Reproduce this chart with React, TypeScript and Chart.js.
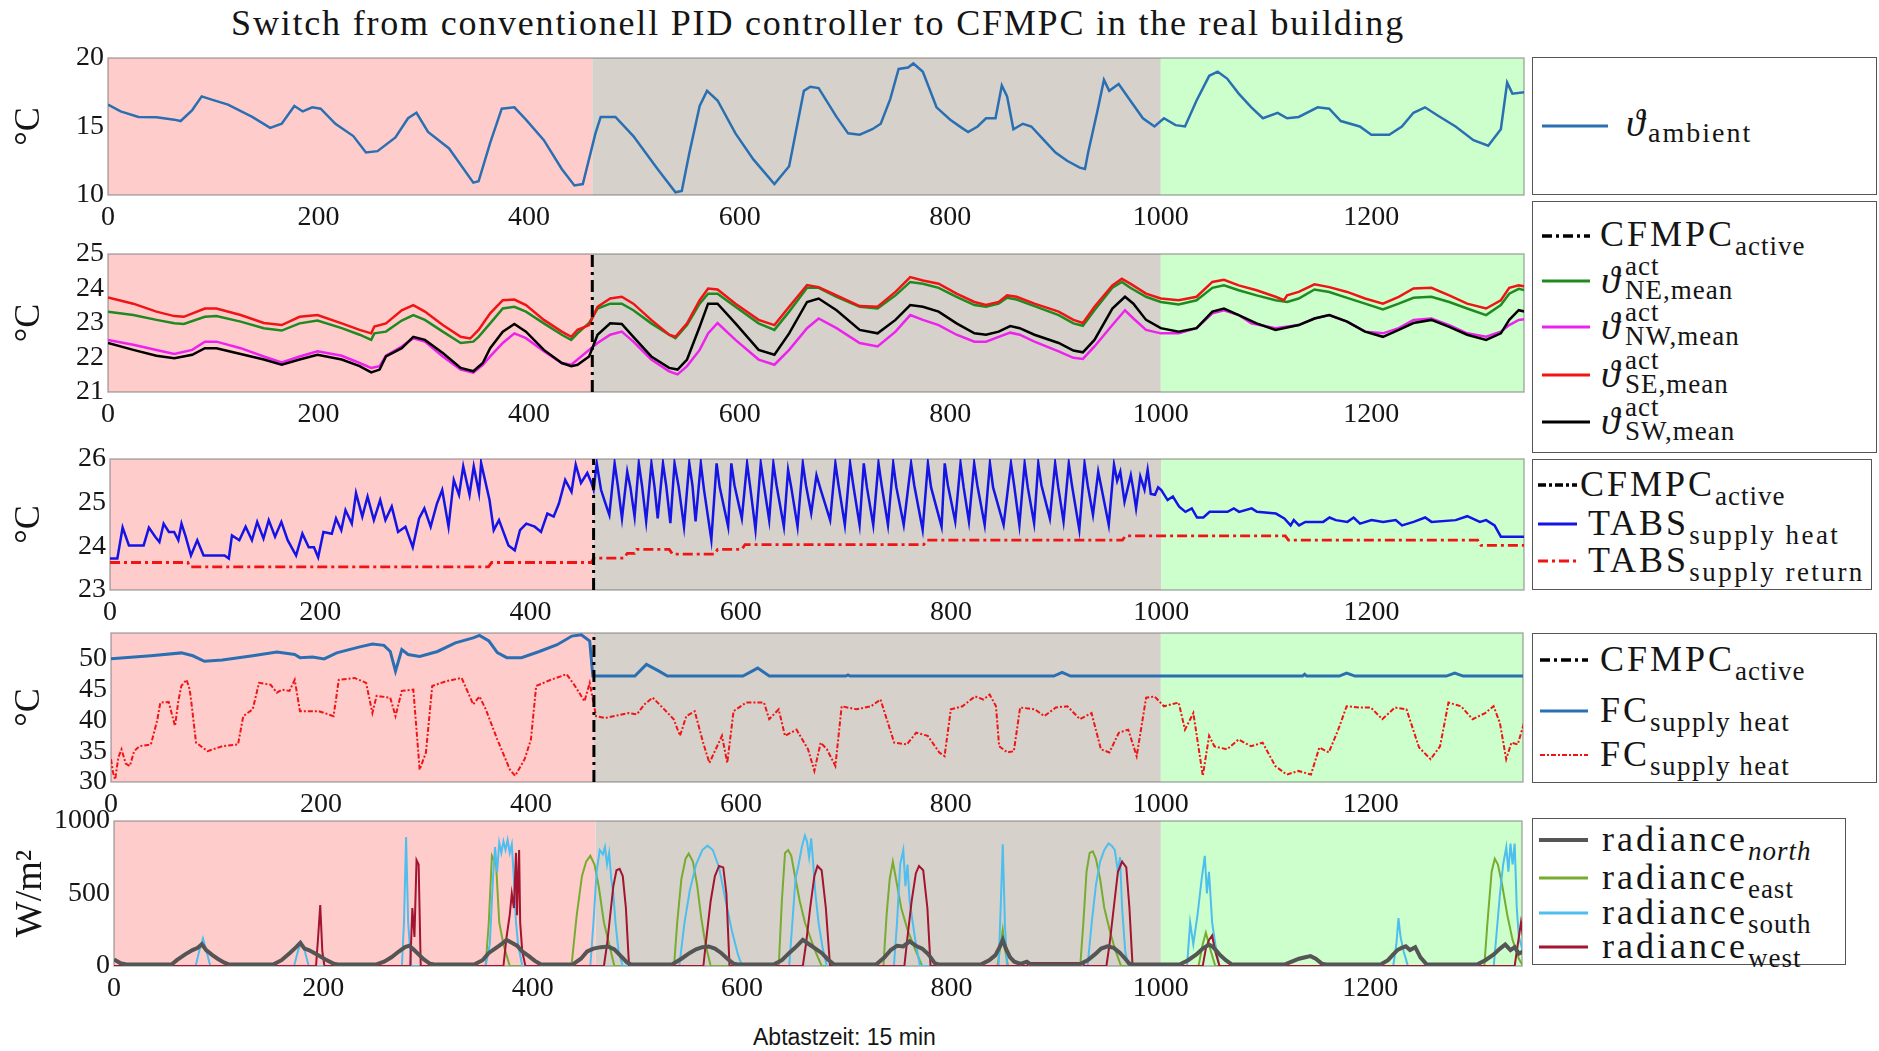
import React, { useEffect, useRef } from "react";
import { Chart, registerables } from "chart.js";
Chart.register(...registerables);

type Pt = [number, number];

const SERIF = '"Liberation Serif", "Times New Roman", serif';
const SANS = '"Liberation Sans", Arial, sans-serif';

// ---------------- axis / phase constants ----------------
const X_MAX = 1345;
const xTicks = [0, 200, 400, 600, 800, 1000, 1200];
const PID_END = 460;
const CFMPC_END = 1000;
const CFMPC_SWITCH = 460;

const PINK = "#ffcccc";
const GREY = "#d6d2cb";
const GREEN = "#ccffcc";

// ---------------- panel 1 : ambient temperature ----------------
const ambient: Pt[] = [[0,16.6],[12,16.1],[29,15.7],[46,15.67],[63,15.5],[69,15.4],[80,16.2],[89,17.2],[97,17.0],[114,16.6],[137,15.7],[154,14.9],[165,15.2],[177,16.5],[185,16.1],[194,16.4],[202,16.3],[216,15.2],[233,14.3],[245,13.1],[256,13.2],[273,14.2],[285,15.6],[293,16.0],[304,14.6],[324,13.4],[347,10.9],[352,11.0],[363,13.8],[374,16.3],[386,16.4],[397,15.5],[414,14.0],[431,11.9],[443,10.7],[451,10.8],[463,14.5],[468,15.7],[482,15.7],[499,14.3],[522,11.9],[539,10.2],[545,10.3],[552,13.0],[562,16.5],[569,17.6],[579,16.9],[596,14.5],[613,12.6],[633,10.8],[647,12.1],[661,17.6],[667,17.9],[675,17.8],[692,15.7],[703,14.5],[714,14.4],[726,14.8],[734,15.2],[743,17.0],[751,19.2],[760,19.3],[765,19.6],[774,19.0],[787,16.4],[800,15.5],[811,14.9],[817,14.6],[826,15.0],[834,15.6],[843,15.6],[849,18.0],[854,17.2],[860,14.8],[869,15.2],[877,15.0],[889,14.0],[900,13.1],[911,12.5],[923,12.0],[928,11.9],[931,13.1],[940,16.2],[946,18.4],[951,17.6],[960,18.1],[971,16.9],[983,15.6],[994,15.0],[1003,15.6],[1014,15.1],[1023,15.0],[1034,16.9],[1046,18.7],[1054,19.0],[1063,18.5],[1074,17.4],[1086,16.4],[1097,15.6],[1111,16.0],[1120,15.6],[1131,15.7],[1149,16.4],[1160,16.3],[1171,15.4],[1189,15.0],[1200,14.4],[1217,14.4],[1229,15.0],[1240,16.0],[1251,16.4],[1263,15.8],[1280,15.0],[1297,14.0],[1311,13.6],[1323,14.8],[1329,18.2],[1334,17.4],[1346,17.5]];

// ---------------- panel 2 : zone mean temperatures ----------------
const zoneSE: Pt[] = [[0,23.74],[24,23.56],[46,23.33],[63,23.2],[72,23.18],[92,23.42],[103,23.42],[126,23.23],[148,23.0],[165,22.94],[182,23.18],[199,23.23],[222,22.99],[239,22.8],[250,22.7],[253,22.9],[264,22.99],[279,23.37],[290,23.52],[301,23.33],[318,22.94],[335,22.6],[344,22.55],[352,22.8],[363,23.28],[375,23.66],[386,23.68],[397,23.52],[414,23.09],[431,22.75],[440,22.6],[446,22.8],[457,22.94],[465,23.47],[477,23.71],[488,23.76],[499,23.56],[516,23.09],[533,22.66],[539,22.6],[550,22.99],[562,23.66],[570,24.0],[579,23.97],[596,23.56],[618,23.09],[633,22.94],[647,23.47],[664,24.1],[675,24.04],[692,23.8],[714,23.49],[731,23.47],[748,23.9],[762,24.33],[774,24.23],[789,24.14],[806,23.85],[823,23.61],[834,23.52],[846,23.61],[854,23.8],[863,23.76],[880,23.56],[903,23.33],[917,23.09],[926,23.0],[937,23.47],[954,24.09],[963,24.28],[971,24.14],[986,23.85],[1000,23.71],[1017,23.66],[1034,23.76],[1049,24.19],[1060,24.25],[1074,24.09],[1091,23.95],[1109,23.76],[1117,23.66],[1120,23.8],[1131,23.9],[1146,24.12],[1160,24.04],[1177,23.9],[1194,23.71],[1211,23.56],[1226,23.76],[1240,24.0],[1257,24.02],[1274,23.8],[1291,23.56],[1309,23.42],[1323,23.66],[1331,24.02],[1340,24.09],[1346,24.06]];
const zoneNE: Pt[] = [[0,23.33],[24,23.23],[46,23.09],[63,22.99],[72,22.97],[92,23.18],[103,23.2],[126,23.04],[148,22.85],[165,22.78],[182,22.99],[199,23.07],[222,22.85],[239,22.66],[250,22.51],[253,22.7],[264,22.75],[279,23.07],[290,23.23],[301,23.09],[318,22.75],[335,22.42],[347,22.46],[352,22.6],[363,22.99],[375,23.42],[386,23.47],[397,23.33],[414,22.99],[431,22.66],[440,22.51],[446,22.7],[457,23.0],[465,23.42],[477,23.56],[488,23.56],[499,23.37],[516,22.99],[533,22.66],[539,22.56],[550,22.94],[562,23.56],[570,23.85],[579,23.85],[596,23.47],[618,22.99],[633,22.8],[647,23.33],[664,24.02],[675,24.02],[692,23.76],[714,23.47],[731,23.42],[748,23.8],[762,24.19],[774,24.14],[789,24.02],[806,23.76],[823,23.52],[834,23.47],[846,23.56],[854,23.73],[863,23.68],[880,23.49],[903,23.23],[917,22.99],[926,22.92],[937,23.37],[954,24.02],[963,24.19],[971,24.02],[986,23.76],[1000,23.61],[1017,23.54],[1034,23.66],[1049,24.02],[1060,24.09],[1074,23.95],[1091,23.8],[1109,23.66],[1120,23.61],[1131,23.71],[1146,23.97],[1160,23.9],[1177,23.73],[1194,23.56],[1211,23.39],[1226,23.56],[1240,23.73],[1257,23.76],[1274,23.61],[1291,23.42],[1309,23.23],[1323,23.52],[1331,23.85],[1340,23.99],[1346,23.95]];
const zoneSW: Pt[] = [[0,22.42],[24,22.22],[46,22.05],[63,21.98],[80,22.08],[92,22.27],[103,22.27],[126,22.1],[148,21.94],[165,21.79],[182,21.94],[199,22.08],[222,21.94],[239,21.75],[250,21.57],[258,21.65],[264,22.03],[279,22.27],[290,22.6],[301,22.51],[318,22.13],[335,21.7],[347,21.6],[356,21.84],[363,22.27],[375,22.75],[386,22.97],[397,22.75],[414,22.22],[431,21.84],[440,21.75],[446,21.79],[457,22.03],[465,22.66],[477,22.99],[488,22.97],[499,22.6],[516,22.03],[533,21.7],[541,21.65],[550,21.94],[562,22.89],[570,23.56],[579,23.56],[596,22.99],[618,22.22],[633,22.08],[647,22.7],[664,23.61],[675,23.71],[692,23.37],[714,22.8],[731,22.7],[748,23.09],[762,23.52],[774,23.47],[789,23.33],[806,22.99],[823,22.7],[834,22.66],[846,22.75],[857,22.91],[866,22.85],[880,22.66],[903,22.42],[917,22.2],[926,22.15],[937,22.51],[954,23.42],[966,23.76],[974,23.56],[986,23.09],[1000,22.85],[1017,22.75],[1034,22.85],[1049,23.33],[1060,23.42],[1074,23.23],[1091,22.99],[1109,22.8],[1131,22.94],[1146,23.13],[1160,23.23],[1177,23.04],[1194,22.75],[1211,22.6],[1226,22.8],[1240,23.0],[1257,23.09],[1274,22.89],[1291,22.66],[1309,22.51],[1323,22.7],[1331,23.09],[1340,23.37],[1346,23.33]];
const zoneNW: Pt[] = [[0,22.51],[24,22.37],[46,22.22],[63,22.1],[80,22.22],[92,22.46],[103,22.46],[126,22.27],[148,22.03],[165,21.86],[182,22.03],[199,22.18],[222,22.05],[239,21.84],[250,21.7],[258,21.75],[264,22.05],[279,22.32],[290,22.56],[301,22.46],[318,22.03],[335,21.65],[347,21.56],[356,21.79],[363,22.03],[375,22.42],[386,22.7],[397,22.56],[414,22.18],[431,21.84],[440,21.79],[446,21.94],[457,22.22],[465,22.42],[477,22.66],[488,22.75],[499,22.46],[516,21.94],[533,21.6],[541,21.51],[550,21.75],[562,22.22],[570,22.7],[579,23.0],[596,22.51],[618,21.94],[633,21.79],[647,22.22],[664,22.85],[675,23.13],[692,22.85],[714,22.42],[731,22.32],[748,22.75],[762,23.23],[774,23.09],[789,22.94],[806,22.66],[823,22.46],[834,22.46],[846,22.6],[857,22.72],[866,22.66],[880,22.46],[903,22.18],[917,21.99],[926,21.96],[937,22.32],[954,22.94],[966,23.37],[974,23.13],[986,22.8],[1000,22.7],[1017,22.7],[1034,22.85],[1049,23.28],[1060,23.37],[1074,23.23],[1086,22.99],[1109,22.85],[1131,22.94],[1146,23.13],[1160,23.23],[1177,23.04],[1194,22.75],[1211,22.7],[1226,22.85],[1240,23.09],[1257,23.13],[1274,22.94],[1291,22.7],[1309,22.6],[1323,22.75],[1331,22.94],[1340,23.09],[1346,23.11]];

// ---------------- panel 3 : TABS ----------------
const tabsHeat: Pt[] = [[0,23.72],[7,23.72],[12,24.43],[18,24.02],[32,24.02],[37,24.43],[43,24.22],[47,24.1],[51,24.52],[56,24.33],[61,24.33],[65,24.14],[68,24.52],[72,24.22],[77,23.79],[83,24.14],[89,23.79],[109,23.79],[113,23.72],[116,24.25],[123,24.14],[129,24.45],[135,24.14],[140,24.56],[146,24.18],[151,24.6],[157,24.22],[163,24.56],[169,24.14],[177,23.79],[183,24.29],[189,23.98],[194,23.98],[198,23.75],[203,24.33],[211,24.29],[215,24.64],[220,24.37],[224,24.83],[230,24.52],[234,25.22],[240,24.68],[245,25.14],[251,24.6],[257,25.06],[262,24.6],[268,24.91],[274,24.33],[281,24.45],[288,23.98],[294,24.64],[299,24.87],[305,24.45],[311,24.98],[316,25.29],[322,24.45],[327,25.52],[332,25.18],[336,25.83],[342,25.18],[346,25.83],[351,25.22],[353,25.91],[361,25.06],[365,24.37],[370,24.6],[379,24.02],[385,23.91],[390,24.37],[396,24.52],[404,24.45],[410,24.33],[416,24.75],[422,24.68],[427,24.98],[433,25.52],[439,25.25],[443,25.87],[448,25.45],[454,25.68],[458,25.45],[460,25.3],[463,25.9],[467,25.3],[471,25.0],[475,24.72],[480,25.9],[483,25.4],[487,24.64],[492,25.71],[495,25.35],[499,24.68],[503,25.9],[506,25.4],[510,24.57],[515,25.9],[518,25.35],[521,24.64],[526,25.9],[529,25.4],[533,24.53],[537,25.9],[541,25.35],[546,24.45],[551,25.9],[554,25.4],[557,24.57],[562,25.9],[565,25.3],[572,24.15],[577,25.9],[580,25.35],[588,24.45],[591,25.9],[594,25.4],[601,24.64],[606,25.9],[609,25.35],[614,24.38],[619,25.9],[622,25.4],[627,24.6],[631,25.9],[634,25.4],[641,24.45],[645,25.75],[648,25.35],[654,24.45],[659,25.9],[662,25.4],[667,24.76],[672,25.63],[676,25.3],[685,24.6],[690,25.9],[693,25.4],[699,24.49],[704,25.9],[707,25.4],[713,24.49],[717,25.9],[720,25.35],[726,24.49],[731,25.9],[734,25.4],[740,24.49],[745,25.9],[748,25.35],[755,24.49],[762,25.9],[765,25.4],[773,24.38],[778,25.9],[781,25.35],[791,24.45],[794,25.9],[797,25.4],[804,24.57],[809,25.9],[812,25.35],[817,24.57],[822,25.9],[825,25.4],[832,24.49],[837,25.9],[840,25.35],[850,24.49],[857,25.9],[860,25.4],[865,24.49],[870,25.9],[873,25.35],[879,24.53],[883,25.9],[886,25.4],[894,24.64],[899,25.9],[902,25.35],[907,24.57],[912,25.9],[915,25.4],[922,24.38],[927,25.9],[930,25.4],[935,24.72],[940,25.71],[943,25.35],[950,24.49],[955,25.87],[958,25.5],[961,25.71],[965,25.02],[971,25.63],[973,25.35],[976,24.87],[980,25.6],[984,25.3],[987,25.75],[990,25.2],[994,25.18],[997,25.35],[1000,25.29],[1006,25.06],[1011,25.14],[1017,24.91],[1023,24.79],[1029,24.87],[1034,24.66],[1040,24.66],[1046,24.79],[1063,24.79],[1069,24.87],[1074,24.79],[1086,24.87],[1091,24.79],[1109,24.75],[1117,24.64],[1123,24.48],[1126,24.6],[1131,24.48],[1137,24.56],[1154,24.56],[1160,24.66],[1166,24.6],[1177,24.56],[1183,24.66],[1189,24.52],[1200,24.6],[1211,24.56],[1223,24.6],[1229,24.48],[1240,24.56],[1251,24.66],[1257,24.56],[1280,24.6],[1291,24.69],[1303,24.56],[1309,24.6],[1317,24.48],[1323,24.22],[1346,24.22]];
const tabsReturn: Pt[] = [[0,23.63],[74,23.63],[76,23.53],[360,23.53],[363,23.63],[458,23.63],[460,23.73],[489,23.73],[492,23.84],[499,23.84],[501,23.93],[532,23.93],[535,23.82],[575,23.82],[578,23.93],[601,23.93],[604,24.04],[774,24.04],[777,24.14],[963,24.14],[966,24.24],[1118,24.24],[1121,24.14],[1301,24.14],[1304,24.02],[1346,24.02]];

// ---------------- panel 4 : fan coil ----------------
const fcSupply: Pt[] = [[0,50.0],[38,50.5],[67,50.97],[78,50.5],[89,49.6],[106,49.8],[135,50.5],[158,51.1],[175,50.7],[180,50.2],[192,50.3],[203,50.0],[215,50.97],[237,51.95],[249,52.4],[260,52.2],[266,51.2],[271,48.0],[277,51.5],[283,50.7],[294,50.4],[311,51.2],[328,52.6],[345,53.4],[351,53.8],[360,52.9],[368,51.0],[377,50.2],[391,50.2],[408,51.2],[425,52.3],[439,53.7],[448,53.9],[456,52.9],[459,47.2],[499,47.2],[510,49.1],[522,48.0],[530,47.2],[602,47.2],[616,48.5],[627,47.2],[700,47.2],[702,47.4],[704,47.2],[898,47.2],[906,47.8],[914,47.2],[1135,47.2],[1137,47.5],[1139,47.2],[1170,47.2],[1177,47.7],[1185,47.2],[1272,47.2],[1280,47.7],[1288,47.2],[1346,47.2]];
const fcReturn: Pt[] = [[0,33.7],[2,31.5],[4,30.4],[7,34],[10,35.3],[14,33],[18,32.6],[22,35],[27,35.8],[38,36.1],[44,40],[47,42.9],[55,43.0],[58,41],[61,39.1],[64,43],[67,45.6],[72,46.6],[75,45],[77,42.3],[81,36.4],[92,35.0],[106,35.8],[121,36.1],[126,40.7],[135,41.8],[141,46.1],[152,45.8],[158,44.5],[163,45.0],[170,44.8],[175,46.6],[180,41.5],[198,41.5],[212,40.7],[217,46.6],[232,46.9],[243,46.1],[249,41.2],[253,44],[257,43.9],[266,43.7],[271,40.7],[277,44.8],[288,45.0],[294,32.0],[300,34.8],[306,45.6],[320,46.4],[334,46.9],[345,42.6],[351,43.9],[357,41.8],[368,36.9],[380,32.0],[385,31.0],[394,33.7],[400,36.9],[405,45.6],[419,46.6],[434,47.5],[442,45.6],[451,43.1],[456,46.1],[462,40.7],[471,40.4],[493,41.2],[501,41.0],[508,42.6],[516,43.7],[527,41.8],[536,40.2],[542,37.5],[548,40.7],[556,41.5],[564,36.4],[570,33.1],[576,35.3],[582,37.5],[587,33.1],[593,41.5],[605,42.9],[622,42.9],[627,40.2],[636,41.8],[642,37.5],[653,38.5],[664,35.3],[670,31.8],[676,36.4],[682,35.3],[690,32.6],[696,42.3],[710,41.8],[724,42.3],[733,43.4],[738,40.7],[746,36.4],[758,36.1],[767,38.0],[778,37.5],[789,34.8],[794,34.2],[800,41.8],[811,42.3],[823,43.9],[831,43.4],[837,44.2],[843,42.3],[846,35.8],[854,34.8],[860,35.0],[866,42.1],[880,41.8],[889,40.7],[900,42.1],[911,42.3],[923,40.2],[934,41.2],[943,35.3],[951,34.8],[960,38.0],[969,38.5],[977,34.2],[986,43.7],[994,43.9],[1003,42.3],[1017,42.9],[1023,38.5],[1031,41.2],[1040,31.0],[1046,37.5],[1051,35.8],[1063,35.3],[1074,36.9],[1086,35.8],[1097,36.4],[1109,32.6],[1120,31.2],[1131,31.8],[1143,31.2],[1151,35.6],[1160,34.8],[1169,38.5],[1177,42.3],[1189,42.1],[1200,42.1],[1211,40.2],[1223,42.1],[1234,41.8],[1246,35.6],[1257,33.7],[1266,35.8],[1274,42.9],[1286,42.3],[1297,40.2],[1309,41.2],[1317,42.3],[1323,39.6],[1329,33.7],[1334,36.4],[1340,36.1],[1346,39.6]];

// ---------------- panel 5 : radiance ----------------
const radNorth: Pt[] = [[0,45],[6,20],[12,10],[55,10],[60,40],[68,80],[75,110],[80,125],[84,150],[88,110],[94,75],[99,50],[105,25],[110,10],[152,10],[160,40],[168,90],[174,130],[178,160],[182,120],[186,110],[190,95],[196,70],[202,45],[210,15],[214,10],[250,10],[258,30],[265,60],[272,100],[278,130],[282,140],[286,115],[291,80],[296,45],[302,15],[306,10],[344,10],[352,40],[358,90],[364,120],[370,150],[375,180],[380,160],[385,140],[390,100],[396,70],[402,35],[408,10],[438,10],[446,50],[452,100],[458,120],[465,130],[472,135],[478,115],[484,70],[490,25],[494,10],[533,10],[542,50],[550,90],[556,115],[562,130],[568,135],[574,120],[580,90],[586,50],[592,15],[596,10],[630,10],[638,40],[645,90],[652,135],[658,180],[664,150],[670,120],[676,90],[682,45],[688,10],[728,10],[736,60],[742,110],[748,140],[754,135],[760,170],[766,140],[772,120],[778,80],[784,20],[788,10],[828,10],[836,40],[842,75],[846,130],[849,180],[852,120],[856,60],[860,30],[866,15],[872,30],[876,10],[922,10],[930,40],[937,80],[943,120],[949,135],[955,125],[961,90],[966,50],[970,15],[974,10],[1018,10],[1026,40],[1034,80],[1040,120],[1046,148],[1050,130],[1056,80],[1062,40],[1068,10],[1118,10],[1125,30],[1132,50],[1138,60],[1143,68],[1148,50],[1154,15],[1158,10],[1210,10],[1217,40],[1222,80],[1226,110],[1230,125],[1234,136],[1238,110],[1243,130],[1248,60],[1254,10],[1302,10],[1310,40],[1318,80],[1324,120],[1329,148],[1334,110],[1338,130],[1342,85],[1346,100]];
const radEast: Pt[] = [[0,0],[355,0],[358,300],[361,760],[365,700],[368,300],[372,150],[378,0],[437,0],[442,350],[447,620],[451,720],[455,760],[459,700],[463,550],[468,300],[473,150],[478,0],[535,0],[538,300],[542,600],[546,740],[549,775],[553,720],[557,560],[561,330],[565,150],[570,0],[635,0],[638,450],[641,780],[644,800],[647,760],[650,640],[655,450],[660,300],[665,200],[670,100],[676,0],[735,0],[738,350],[741,600],[744,720],[747,600],[752,400],[758,250],[765,120],[772,0],[844,0],[847,150],[849,250],[851,120],[854,0],[923,0],[926,300],[929,650],[932,780],[935,790],[938,740],[942,600],[946,400],[951,250],[956,120],[962,0],[1036,0],[1040,150],[1043,230],[1047,120],[1052,0],[1309,0],[1312,300],[1316,650],[1319,740],[1322,700],[1326,560],[1331,350],[1336,180],[1342,50],[1346,0]];
const radSouth: Pt[] = [[0,0],[78,0],[82,120],[85,190],[88,110],[92,0],[172,0],[176,110],[179,160],[182,110],[186,0],[275,0],[277,300],[279,890],[281,300],[284,0],[355,0],[359,150],[362,600],[364,820],[366,650],[368,850],[370,780],[372,860],[374,800],[376,870],[378,780],[380,840],[382,600],[384,300],[386,150],[390,0],[455,0],[458,300],[461,650],[464,800],[467,770],[469,820],[471,700],[473,780],[475,600],[477,500],[479,300],[482,100],[486,0],[540,0],[545,300],[550,520],[556,700],[562,800],[567,830],[572,800],[578,680],[584,460],[590,250],[596,80],[600,0],[645,0],[648,300],[651,600],[654,700],[657,820],[660,900],[662,860],[664,750],[666,880],[668,700],[670,500],[673,300],[677,120],[681,0],[745,0],[748,300],[751,700],[754,800],[756,550],[758,700],[760,450],[763,300],[766,150],[770,0],[845,0],[847,400],[849,840],[851,300],[853,0],[930,0],[934,300],[938,560],[942,720],[946,800],[950,845],[953,830],[956,800],[959,650],[961,750],[963,400],[966,100],[969,0],[1025,0],[1028,300],[1031,150],[1035,350],[1039,600],[1042,760],[1044,500],[1046,650],[1049,300],[1052,150],[1056,0],[1222,0],[1225,150],[1227,330],[1229,200],[1232,100],[1236,0],[1318,0],[1321,250],[1324,500],[1327,700],[1330,820],[1332,650],[1334,845],[1336,700],[1338,845],[1340,400],[1342,200],[1346,100]];
const radWest: Pt[] = [[0,0],[193,0],[195,200],[197,420],[199,100],[201,0],[283,0],[285,400],[287,200],[289,730],[291,700],[293,0],[372,0],[375,200],[378,350],[380,500],[382,400],[384,780],[385,350],[386,600],[387,800],[388,300],[390,100],[393,0],[468,0],[471,150],[474,350],[477,550],[480,660],[483,670],[486,620],[489,400],[492,0],[563,0],[566,200],[570,450],[574,620],[578,690],[582,680],[585,500],[588,0],[658,0],[661,150],[665,400],[669,620],[672,690],[676,660],[680,400],[684,0],[755,0],[758,200],[762,450],[766,640],[769,690],[773,660],[777,400],[780,0],[872,0],[874,20],[925,20],[927,0],[948,0],[951,150],[955,400],[959,650],[963,720],[967,680],[970,400],[973,0],[1040,0],[1043,120],[1046,180],[1049,210],[1052,100],[1056,0],[1338,0],[1341,150],[1344,300],[1346,200]];

// ---------------- helpers ----------------
const line = (data: Pt[], color: string, width: number, dash: number[] = []) => ({
  data,
  borderColor: color,
  backgroundColor: color,
  borderWidth: width,
  borderDash: dash,
  pointRadius: 0,
  fill: false,
  tension: 0,
});

const bandPlugin = {
  id: "bands",
  beforeDatasetsDraw(chart: any) {
    const { ctx, chartArea: a, scales } = chart;
    const x = scales.x;
    const bands: [number, number, string][] = [
      [0, PID_END, PINK],
      [PID_END, CFMPC_END, GREY],
      [CFMPC_END, X_MAX, GREEN],
    ];
    ctx.save();
    bands.forEach(([s, e, c]) => {
      const x0 = x.getPixelForValue(s);
      const x1 = x.getPixelForValue(e);
      ctx.fillStyle = c;
      ctx.fillRect(x0, a.top, x1 - x0, a.bottom - a.top);
    });
    ctx.strokeStyle = "rgba(110,110,110,0.55)";
    ctx.lineWidth = 1.5;
    ctx.strokeRect(a.left, a.top, a.right - a.left, a.bottom - a.top);
    ctx.restore();
  },
};

type Rect = { l: number; t: number; r: number; b: number };
const PAD_TOP = 22;
const PAD_RIGHT = 4;
const X_AXIS_H = 44;

function Panel(props: { rect: Rect; yMin: number; yMax: number; yTicks: number[]; yTitle: string; datasets: any[] }) {
  const { rect, yMin, yMax, yTicks, yTitle, datasets } = props;
  const ref = useRef<HTMLCanvasElement>(null);
  const W = rect.r + PAD_RIGHT;
  const H = rect.b - rect.t + PAD_TOP + X_AXIS_H;
  useEffect(() => {
    if (!ref.current) return;
    const tickFont = { family: SERIF, size: 28 };
    const plain = (v: any) => String(v);
    const chart = new Chart(ref.current, {
      type: "line",
      data: { datasets },
      plugins: [bandPlugin],
      options: {
        animation: false,
        responsive: false,
        maintainAspectRatio: false,
        devicePixelRatio: 1,
        layout: { padding: { top: PAD_TOP, right: PAD_RIGHT, left: 0, bottom: 0 } },
        plugins: { legend: { display: false }, tooltip: { enabled: false } },
        elements: { point: { radius: 0 } },
        scales: {
          x: {
            type: "linear",
            min: 0,
            max: X_MAX,
            grid: { display: false, drawTicks: false },
            border: { display: false },
            ticks: { font: tickFont, color: "#151515", padding: 6, maxRotation: 0, autoSkip: false, callback: plain },
            afterBuildTicks: (s: any) => {
              s.ticks = xTicks.map((v) => ({ value: v }));
            },
            afterFit: (s: any) => {
              s.height = X_AXIS_H;
            },
          },
          y: {
            type: "linear",
            min: yMin,
            max: yMax,
            grid: { display: false, drawTicks: false },
            border: { display: false },
            ticks: { font: tickFont, color: "#151515", padding: 4, autoSkip: false, callback: plain },
            afterBuildTicks: (s: any) => {
              s.ticks = yTicks.map((v) => ({ value: v }));
            },
            afterFit: (s: any) => {
              s.width = rect.l;
            },
            title: {
              display: true,
              text: yTitle,
              color: "#151515",
              font: { family: SERIF, size: yTitle === "°C" ? 36 : 38 },
              padding: { top: 8, bottom: 0 },
            },
          },
        },
      } as any,
    });
    return () => chart.destroy();
  }, []);
  return (
    <canvas
      ref={ref}
      width={W}
      height={H}
      style={{ position: "absolute", left: 0, top: rect.t - PAD_TOP, width: W, height: H }}
    />
  );
}

// ---------------- legend helpers ----------------
function Box(p: { l: number; t: number; w: number; h: number }) {
  return (
    <div
      style={{
        position: "absolute",
        left: p.l,
        top: p.t,
        width: p.w,
        height: p.h,
        border: "1.5px solid #555",
        boxSizing: "border-box",
        background: "#fff",
      }}
    />
  );
}

function Sample(p: { x1: number; x2: number; y: number; color: string; width: number; dash?: string }) {
  const w = p.x2 - p.x1;
  return (
    <svg style={{ position: "absolute", left: p.x1, top: p.y - 6 }} width={w} height={12}>
      <line x1={0} y1={6} x2={w} y2={6} stroke={p.color} strokeWidth={p.width} strokeDasharray={p.dash} />
    </svg>
  );
}

// text positioned by the vertical centre of capital letters
function T(p: { x: number; cy: number; size: number; children: React.ReactNode; italic?: boolean; ls?: number; family?: string }) {
  return (
    <div
      style={{
        position: "absolute",
        left: p.x,
        top: p.cy - p.size * 0.6,
        fontFamily: p.family ?? SERIF,
        fontSize: p.size,
        lineHeight: `${p.size * 1.2}px`,
        whiteSpace: "nowrap",
        color: "#151515",
        fontStyle: p.italic ? "italic" : "normal",
        letterSpacing: p.ls ?? 0,
      }}
    >
      {p.children}
    </div>
  );
}

const MAIN = 36;
const SUB = 27;

function Main(p: { text: string; sub: string; subItalic?: boolean; subLs?: number }) {
  return (
    <>
      <span style={{ letterSpacing: 3 }}>{p.text}</span>
      <span
        style={{
          fontSize: SUB,
          position: "relative",
          top: 9,
          letterSpacing: p.subLs ?? 1,
          fontStyle: p.subItalic ? "italic" : "normal",
        }}
      >
        {p.sub}
      </span>
    </>
  );
}

function Theta(p: { x: number; y: number; sub: string }) {
  return (
    <>
      <T x={p.x} cy={p.y} size={38} italic>
        ϑ
      </T>
      <T x={p.x + 24} cy={p.y - 15} size={SUB} ls={1}>
        act
      </T>
      <T x={p.x + 24} cy={p.y + 9} size={SUB} ls={1}>
        {p.sub}
      </T>
    </>
  );
}

const DASHDOT = "10 4 3 4";
const DASHED = "5 2 2 2";

export default function App() {
  const vline = (lo: number, hi: number) =>
    line([[CFMPC_SWITCH, lo], [CFMPC_SWITCH, hi]], "#000", 3, [12, 5, 3, 5]);

  return (
    <div
      style={{
        position: "absolute",
        left: 0,
        top: 0,
        width: 1879,
        height: 1051,
        background: "#fff",
        overflow: "hidden",
      }}
    >
      <div
        style={{
          position: "absolute",
          left: 818,
          top: 2,
          transform: "translateX(-50%)",
          fontFamily: SERIF,
          fontSize: 36,
          letterSpacing: 1.8,
          whiteSpace: "nowrap",
          color: "#151515",
        }}
      >
        Switch from conventionell PID controller to CFMPC in the real building
      </div>

      <Panel
        rect={{ l: 108, t: 58, r: 1524, b: 195 }}
        yMin={10}
        yMax={20}
        yTicks={[10, 15, 20]}
        yTitle="°C"
        datasets={[line(ambient, "#2b6fb3", 2.5)]}
      />
      <Panel
        rect={{ l: 108, t: 254, r: 1524, b: 392 }}
        yMin={21}
        yMax={25}
        yTicks={[21, 22, 23, 24, 25]}
        yTitle="°C"
        datasets={[
          vline(21, 25),
          line(zoneSE, "#f01414", 2.5),
          line(zoneNE, "#1f8a1f", 2.5),
          line(zoneSW, "#000000", 2.5),
          line(zoneNW, "#ee22ee", 2.5),
        ]}
      />
      <Panel
        rect={{ l: 110, t: 459, r: 1524, b: 590 }}
        yMin={23}
        yMax={26}
        yTicks={[23, 24, 25, 26]}
        yTitle="°C"
        datasets={[
          vline(23, 26),
          line(tabsHeat, "#1414e6", 2.5),
          line(tabsReturn, "#f01414", 2.8, [10, 4, 3, 4]),
        ]}
      />
      <Panel
        rect={{ l: 111, t: 633, r: 1523, b: 782 }}
        yMin={30}
        yMax={54.2}
        yTicks={[30, 35, 40, 45, 50]}
        yTitle="°C"
        datasets={[
          vline(30, 54.2),
          line(fcSupply, "#2b6fb3", 3),
          line(fcReturn, "#f01414", 2, [5, 2, 2, 2]),
        ]}
      />
      <Panel
        rect={{ l: 114, t: 821, r: 1522, b: 966 }}
        yMin={0}
        yMax={1000}
        yTicks={[0, 500, 1000]}
        yTitle="W/m²"
        datasets={[
          line(radNorth, "#555555", 4),
          line(radWest, "#a2142f", 2),
          line(radSouth, "#4dbeee", 2),
          line(radEast, "#77ac30", 2),
        ]}
      />

      {/* legend 1 */}
      <Box l={1532} t={57} w={345} h={138} />
      <Sample x1={1542} x2={1608} y={126} color="#2b6fb3" width={3} />
      <T x={1626} cy={124} size={38} italic>
        ϑ
      </T>
      <T x={1648} cy={133} size={28} ls={2}>
        ambient
      </T>

      {/* legend 2 */}
      <Box l={1532} t={201} w={345} h={252} />
      <Sample x1={1542} x2={1590} y={236} color="#000" width={3.5} dash="10 4 3 4" />
      <T x={1600} cy={235} size={MAIN}>
        <Main text="CFMPC" sub="active" />
      </T>
      <Sample x1={1542} x2={1590} y={281} color="#1f8a1f" width={3} />
      <Theta x={1601} y={281} sub="NE,mean" />
      <Sample x1={1542} x2={1590} y={327} color="#ee22ee" width={3} />
      <Theta x={1601} y={327} sub="NW,mean" />
      <Sample x1={1542} x2={1590} y={375} color="#f01414" width={3} />
      <Theta x={1601} y={375} sub="SE,mean" />
      <Sample x1={1542} x2={1590} y={422} color="#000" width={3} />
      <Theta x={1601} y={422} sub="SW,mean" />

      {/* legend 3 */}
      <Box l={1532} t={459} w={340} h={131} />
      <Sample x1={1538} x2={1577} y={485} color="#000" width={3.5} dash="8 3 3 3" />
      <T x={1580} cy={485} size={MAIN}>
        <Main text="CFMPC" sub="active" />
      </T>
      <Sample x1={1538} x2={1577} y={524} color="#1414e6" width={3} />
      <T x={1588} cy={524} size={MAIN}>
        <Main text="TABS" sub="supply heat" subLs={2.5} />
      </T>
      <Sample x1={1538} x2={1577} y={561} color="#f01414" width={3} dash={DASHDOT} />
      <T x={1588} cy={561} size={MAIN}>
        <Main text="TABS" sub="supply return" subLs={2.5} />
      </T>

      {/* legend 4 */}
      <Box l={1532} t={633} w={345} h={150} />
      <Sample x1={1540} x2={1588} y={660} color="#000" width={3.5} dash="10 4 3 4" />
      <T x={1600} cy={660} size={MAIN}>
        <Main text="CFMPC" sub="active" />
      </T>
      <Sample x1={1540} x2={1588} y={711} color="#2b6fb3" width={3} />
      <T x={1600} cy={711} size={MAIN}>
        <Main text="FC" sub="supply heat" subLs={1.5} />
      </T>
      <Sample x1={1540} x2={1588} y={755} color="#f01414" width={1.8} dash={DASHED} />
      <T x={1600} cy={755} size={MAIN}>
        <Main text="FC" sub="supply heat" subLs={1.5} />
      </T>

      {/* legend 5 */}
      <Box l={1532} t={818} w={314} h={147} />
      <Sample x1={1539} x2={1588} y={840} color="#555555" width={4} />
      <T x={1602} cy={840} size={MAIN}>
        <Main text="radiance" sub="north" subItalic />
      </T>
      <Sample x1={1539} x2={1588} y={878} color="#77ac30" width={3} />
      <T x={1602} cy={878} size={MAIN}>
        <Main text="radiance" sub="east" />
      </T>
      <Sample x1={1539} x2={1588} y={913} color="#4dbeee" width={3} />
      <T x={1602} cy={913} size={MAIN}>
        <Main text="radiance" sub="south" />
      </T>
      <Sample x1={1539} x2={1588} y={947} color="#a2142f" width={3} />
      <T x={1602} cy={947} size={MAIN}>
        <Main text="radiance" sub="west" />
      </T>

      <T x={857 - 104} cy={1038} size={23} family={SANS}>
        Abtastzeit: 15 min
      </T>
    </div>
  );
}
